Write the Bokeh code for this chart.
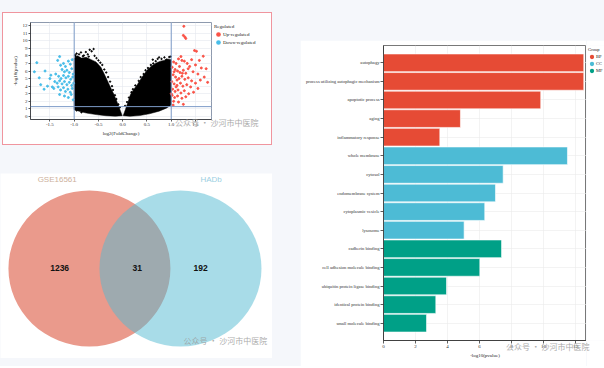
from bokeh.plotting import figure
from bokeh.models import (Range1d, FixedTicker, NumeralTickFormatter, Span, Label,
                          Legend, LegendItem, Spacer, Div)
from bokeh.layouts import row, column
from bokeh.embed import file_html
from bokeh.resources import INLINE

PAGE_BG = "#F5F7FB"
SERIF = "Liberation Serif"
SANS = "Liberation Sans"
CJK = "Noto Sans CJK SC"
WATERMARK = "公众号 · 沙河市中医院"
NAN = float("nan")

# ---------------- data: volcano ----------------
up_x = [1.26, 1.25, 1.28, 1.30, 1.48, 1.52, 1.66, 1.58, 1.42, 1.20, 1.15, 1.22, 1.27, 1.10,
        1.05, 1.33, 1.38, 1.50, 1.62, 1.72, 1.02, 1.08, 1.13, 1.18, 1.25, 1.30, 1.45, 1.55,
        1.68, 1.04, 1.09, 1.16, 1.22, 1.28, 1.35, 1.42, 1.50, 1.60, 1.75, 1.01, 1.06, 1.12,
        1.19, 1.24, 1.32, 1.40, 1.55, 1.03, 1.08, 1.14, 1.20, 1.27, 1.36, 1.46, 1.02, 1.07,
        1.13, 1.22, 1.30, 1.05, 1.15, 1.25, 1.04, 1.10, 1.17, 1.35, 1.00, 1.12, 1.06, 1.23]
up_y = [11.9, 10.7, 10.5, 10.3, 8.7, 8.6, 7.95, 7.4, 7.5, 7.9, 7.6, 7.4, 7.3, 7.0,
        7.2, 7.0, 6.6, 6.8, 6.4, 6.3, 6.5, 6.2, 6.0, 5.8, 6.1, 5.7, 5.9, 5.6,
        5.2, 5.5, 5.2, 5.0, 5.3, 4.9, 5.1, 4.7, 4.4, 4.8, 4.5, 4.6, 4.3, 4.1,
        4.4, 4.0, 4.2, 3.9, 3.7, 3.6, 3.3, 3.5, 3.1, 3.4, 3.0, 3.2, 2.8, 2.5,
        2.7, 2.4, 2.6, 2.0, 1.9, 1.6, 1.5, 3.9, 6.6, 6.3, 3.0, 4.8, 5.9, 5.7]
down_x = [-1.77, -1.82, -1.72, -1.69, -1.62, -1.55, -1.48, -1.45, -1.34, -1.30, -1.28, -1.22,
          -1.18, -1.12, -1.08, -1.04, -1.25, -1.20, -1.15, -1.10, -1.05, -1.02, -1.38, -1.32,
          -1.27, -1.22, -1.17, -1.12, -1.07, -1.03, -1.40, -1.35, -1.30, -1.25, -1.20, -1.15,
          -1.10, -1.05, -1.01, -1.42, -1.33, -1.28, -1.22, -1.18, -1.13, -1.08, -1.04, -1.30,
          -1.20, -1.12, -1.06, -1.02, -1.50, -1.60]
down_y = [7.1, 5.9, 5.1, 4.2, 3.6, 4.0, 5.45, 3.9, 7.4, 7.9, 6.75, 7.0,
          6.6, 7.3, 6.9, 7.5, 6.2, 5.9, 6.1, 5.8, 6.3, 5.6, 5.6, 5.3,
          5.0, 5.4, 5.1, 5.3, 4.9, 5.2, 4.6, 4.4, 4.7, 4.3, 4.6, 4.2,
          4.5, 4.1, 4.4, 3.7, 3.9, 3.5, 3.8, 3.3, 3.6, 3.2, 3.7, 2.9,
          2.7, 2.5, 2.9, 2.2, 5.0, 6.0]
# outline of the dense cloud of non-significant genes (left and right lobes)
ns_left_x = [-1.0, -1.0, -0.93, -0.85, -0.75, -0.65, -0.55, -0.45, -0.38, -0.30, -0.24, -0.18,
             -0.11, -0.05, -0.01, -0.15, -0.35, -0.55, -0.75, -0.90]
ns_left_y = [0.9, 7.7, 8.0, 7.7, 7.8, 7.5, 7.2, 6.5, 5.6, 4.5, 3.7, 2.9,
             1.8, 0.8, 0.1, 0.03, 0.1, 0.25, 0.45, 0.7]
ns_right_x = [0.01, 0.06, 0.11, 0.16, 0.23, 0.30, 0.40, 0.50, 0.60, 0.70, 0.78, 0.85,
              0.93, 1.0, 1.0, 0.90, 0.75, 0.55, 0.35, 0.15]
ns_right_y = [0.1, 1.0, 1.9, 2.9, 3.6, 4.2, 5.2, 6.1, 6.7, 7.1, 7.3, 7.4,
              7.6, 7.5, 1.5, 1.1, 0.7, 0.35, 0.12, 0.02]
# sparse non-significant genes along the cloud edges
ns_x = [-0.98, -0.95, -0.90, -0.86, -0.80, -0.76, -0.72, -0.68, -0.64, -0.60, -0.58, -0.54,
        -0.50, -0.46, -0.42, -0.38, -0.34, -0.30, -0.26, -0.22, -0.20, -0.16, -0.13, -0.09,
        -0.06, -0.97, -0.82, -0.70, -0.85, -0.95, -0.98,
        0.05, 0.09, 0.13, 0.18, 0.21, 0.26, 0.33, 0.37, 0.43, 0.47, 0.52, 0.58, 0.63, 0.68,
        0.72, 0.80, 0.86, 0.90, 0.96, 0.99, 0.75, 0.62]
ns_y = [8.1, 8.3, 8.2, 8.45, 8.05, 8.5, 8.2, 8.8, 8.6, 8.9, 8.0, 7.7,
        7.4, 7.1, 6.8, 6.2, 5.8, 5.2, 4.6, 4.0, 3.5, 2.8, 2.3, 1.6,
        1.2, 7.95, 7.95, 7.9, 0.55, 0.8, 1.2,
        1.4, 1.9, 2.5, 3.2, 3.6, 4.1, 4.7, 5.2, 5.6, 6.1, 6.4, 6.8, 7.0, 7.3,
        7.6, 7.6, 7.8, 7.5, 7.85, 7.9, 7.8, 7.5]
fc_cutoffs = [-1.0, 1.0]
p_cutoff = 1.3
vol_xticks = [-1.5, -1.0, -0.5, 0.0, 0.5, 1.0, 1.5]
vol_yticks = list(range(0, 13))
reg_labels = ["Up-regulated", "Down-regulated"]
reg_colors = ["#FA5246", "#47BDE9"]

# ---------------- data: venn ----------------
venn_names = ["GSE16561", "HADb"]
venn_counts = [1236, 31, 192]
venn_colors = ["#D53519", "#51B9D1"]
venn_label_colors = ["#CDB19C", "#9CCFE2"]

# ---------------- data: GO enrichment ----------------
go_terms = ["autophagy", "process utilizing autophagic mechanism", "apoptotic process", "aging",
            "inflammatory response", "whole membrane", "cytosol", "endomembrane system",
            "cytoplasmic vesicle", "lysosome", "cadherin binding", "cell adhesion molecule binding",
            "ubiquitin protein ligase binding", "identical protein binding", "small molecule binding"]
go_values = [12.52, 12.52, 9.83, 4.81, 3.52, 11.5, 7.48, 7.0, 6.33, 5.04, 7.38, 6.02, 3.94, 3.27, 2.69]
go_groups = ["BP"] * 5 + ["CC"] * 5 + ["MF"] * 5
group_names = ["BP", "CC", "MF"]
group_colors = ["#E64B35", "#4DBBD5", "#00A087"]
go_xticks = [0, 2, 4, 6, 8, 10, 12]


def style_axis(ax, size="5px"):
    ax.major_label_text_font = SERIF
    ax.major_label_text_font_size = size
    ax.major_label_text_color = "#333333"
    ax.axis_label_text_font = SERIF
    ax.axis_label_text_font_size = size
    ax.axis_label_text_font_style = "normal"
    ax.axis_label_text_color = "#222222"
    ax.axis_line_color = "#333333"
    ax.axis_line_width = 0.8
    ax.major_tick_line_color = "#333333"
    ax.major_tick_line_width = 0.8
    ax.major_tick_out = 2
    ax.major_tick_in = 0
    ax.minor_tick_line_color = None
    ax.major_label_standoff = 1
    ax.axis_label_standoff = 2


def legend_figure(width, height, top, names, colors, title, size, glyph_w, glyph_h):
    """A small axis-less figure whose frame holds only a legend."""
    lf = figure(width=width, height=height, x_range=Range1d(0, 1), y_range=Range1d(0, 1),
                output_backend="svg", toolbar_location=None,
                min_border_left=0, min_border_right=0, min_border_bottom=0, min_border_top=top,
                x_axis_location=None, y_axis_location=None,
                background_fill_color="white", border_fill_color="white", outline_line_color=None)
    lf.grid.visible = False
    # legend proxies: one undrawn (NaN) point each, so the legend can show the key
    rs = [lf.scatter(x=[NAN], y=[NAN], marker="circle", size=3, color=c, line_width=1.5)
          for c in colors]
    leg = Legend(items=[LegendItem(label=nm, renderers=[r]) for nm, r in zip(names, rs)],
                 title=title, location="top_left")
    leg.border_line_color = None
    leg.background_fill_alpha = 0
    leg.padding = 0
    leg.margin = 2
    leg.spacing = 0
    leg.glyph_width = glyph_w
    leg.glyph_height = glyph_h
    leg.label_height = glyph_h
    leg.label_standoff = 1
    leg.label_text_font = SERIF
    leg.label_text_font_size = size
    leg.label_text_color = "#222222"
    leg.title_text_font = SERIF
    leg.title_text_font_size = size
    leg.title_text_font_style = "normal"
    leg.title_text_color = "#222222"
    leg.title_standoff = 1
    lf.add_layout(leg)
    return lf


def watermark_div(width, top_overlap, left):
    return Div(text=WATERMARK, width=width, height=12, margin=(-top_overlap, 0, 0, left),
               styles={"font-family": CJK, "font-size": "8px", "color": "#9A9A9A",
                       "opacity": "0.85", "line-height": "12px", "white-space": "nowrap",
                       "pointer-events": "none"})


# ---------------- volcano plot ----------------
vol = figure(width=209, height=131, x_range=Range1d(-1.9, 1.83), y_range=Range1d(-0.4, 12.4),
             output_backend="svg", toolbar_location=None,
             min_border_left=27, min_border_right=1, min_border_top=9, min_border_bottom=25,
             background_fill_color="white", border_fill_color="white",
             outline_line_color="#8E9AAE", outline_line_width=1)
for ax in (vol.xaxis[0], vol.yaxis[0]):
    style_axis(ax)
vol.xaxis.ticker = FixedTicker(ticks=vol_xticks)
vol.xaxis.formatter = NumeralTickFormatter(format="0.0")
vol.yaxis.ticker = FixedTicker(ticks=vol_yticks)
vol.xgrid.ticker = FixedTicker(ticks=vol_xticks)
vol.ygrid.ticker = FixedTicker(ticks=vol_yticks)
vol.grid.grid_line_color = "#E4E8EE"
vol.grid.grid_line_width = 0.6
vol.xaxis.axis_label = "log2(FoldChange)"
vol.yaxis.axis_label = "-log10(pvalue)"

vol.patch(ns_left_x, ns_left_y, color="black", line_width=0.5)
vol.patch(ns_right_x, ns_right_y, color="black", line_width=0.5)
vol.scatter(ns_x, ns_y, size=1.4, color="black")
vol.scatter(up_x, up_y, size=2.0, color=reg_colors[0])
vol.scatter(down_x, down_y, size=2.0, color=reg_colors[1])
for c in fc_cutoffs:
    vol.add_layout(Span(location=c, dimension="height", line_color="#7D9CC8", line_width=1))
vol.add_layout(Span(location=p_cutoff, dimension="width", line_color="#7D9CC8", line_width=1))

vol_leg = legend_figure(59, 131, 9, reg_labels, reg_colors, "Regulated", "5px", 8, 8)
vol_box = row(vol, vol_leg, styles={"border": "1px solid #F0959E", "background-color": "white"})

# ---------------- venn diagram ----------------
VENN_CX = 0.562
vn = figure(width=272, height=185, x_range=Range1d(-1.66, 1.698), y_range=Range1d(-1.154, 1.218),
            output_backend="svg", toolbar_location=None, min_border=0,
            x_axis_location=None, y_axis_location=None,
            background_fill_color="white", border_fill_color="white", outline_line_color=None)
vn.grid.visible = False
vn.ellipse(x=[-VENN_CX, VENN_CX], y=[0, 0], width=2, height=2,
           fill_color=venn_colors, fill_alpha=0.5, line_color=None)
for name, lx, col in zip(venn_names, [-0.96, 0.94], venn_label_colors):
    vn.add_layout(Label(x=lx, y=1.137, text=name, text_font=SANS, text_font_size="8px",
                        text_color=col, text_align="center", text_baseline="middle"))
for cnt, lx in zip(venn_counts, [-0.93, 0.027, 0.81]):
    vn.add_layout(Label(x=lx, y=0.0, text=str(cnt), text_font=SANS, text_font_size="8.5px",
                        text_font_style="bold", text_color="#111111", text_align="center",
                        text_baseline="middle"))
vn.add_layout(Label(x=0.6, y=-0.923, text=WATERMARK, text_font=CJK, text_font_size="8px",
                    text_color="#9A9A9A", text_alpha=0.85, text_baseline="middle"))

# ---------------- GO bar chart ----------------
n = len(go_terms)
ypos = list(range(1, n + 1))
bar = figure(width=286, height=326, x_range=Range1d(0, 12.69), y_range=Range1d(n + 0.93, 0.07),
             output_backend="svg", toolbar_location=None,
             min_border_left=83, min_border_right=0, min_border_top=5, min_border_bottom=26,
             background_fill_color="white", border_fill_color="white",
             outline_line_color="#555555", outline_line_width=0.8)
for ax in (bar.xaxis[0], bar.yaxis[0]):
    style_axis(ax)
bar.yaxis.major_label_text_font_size = "4.6px"
bar.xaxis.ticker = FixedTicker(ticks=go_xticks)
bar.xgrid.ticker = FixedTicker(ticks=go_xticks)
bar.yaxis.ticker = FixedTicker(ticks=ypos)
bar.yaxis.major_label_overrides = {int(y): t for y, t in zip(ypos, go_terms)}
bar.xaxis.axis_label = "-log10(pvalue)"
bar.xaxis.major_tick_out = 3
bar.yaxis.major_tick_out = 3
bar.grid.grid_line_color = "#EBEBEB"
bar.grid.grid_line_width = 0.6
bar_colors = [group_colors[group_names.index(g)] for g in go_groups]
bar.hbar(y=ypos, left=0, right=go_values, height=0.95, fill_color=bar_colors,
         line_color="white", line_width=0.6)
bar_leg = legend_figure(18, 326, 4, group_names, group_colors, "Group", "4.5px", 7, 7)

# ---------------- page layout ----------------
left_col = column(Spacer(height=12), row(Spacer(width=2), vol_box),
                  watermark_div(90, 28, 175), Spacer(height=44), vn, Spacer(height=8))
right_col = column(Spacer(height=40), row(bar, bar_leg), watermark_div(96, 25, 206))
root = row(left_col, Spacer(width=28), right_col, styles={"background-color": PAGE_BG})

open("out.html", "w").write(file_html(root, INLINE))
